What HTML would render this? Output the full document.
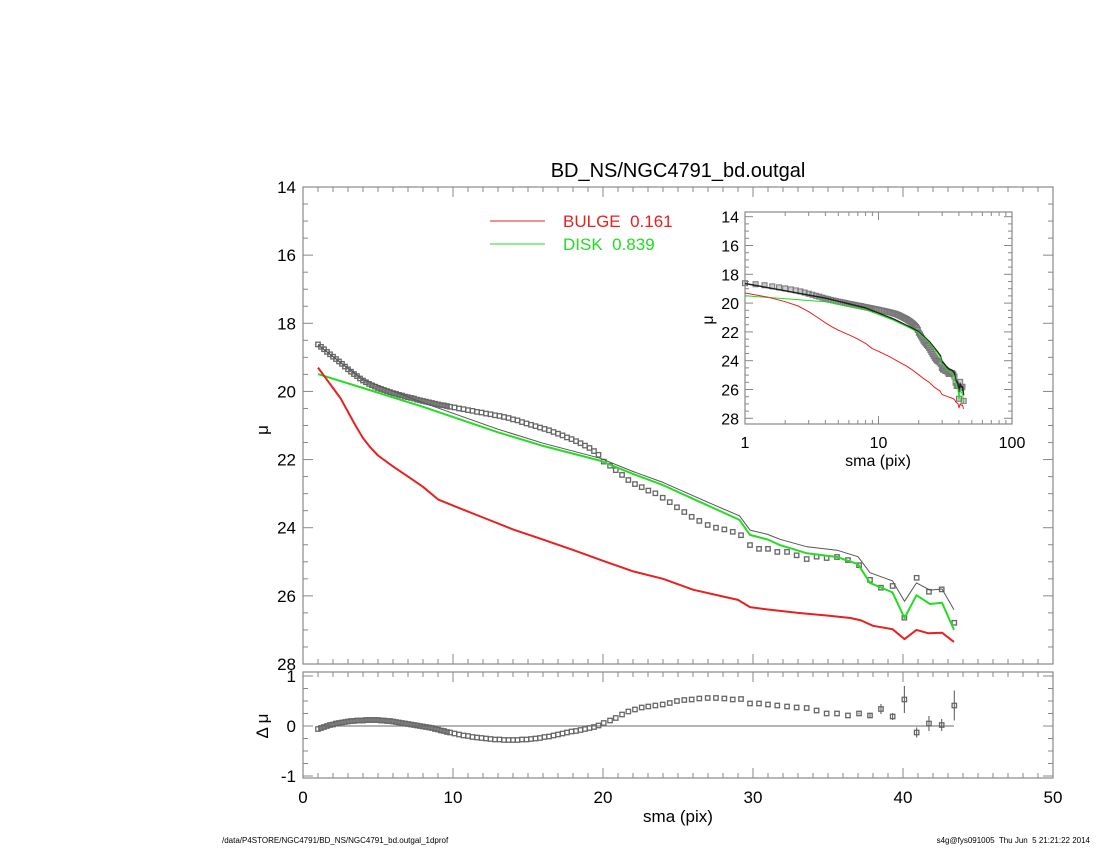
<!DOCTYPE html>
<html><head><meta charset="utf-8"><style>
html,body{margin:0;padding:0;background:#fff;}
svg{display:block;font-family:"Liberation Sans",sans-serif;}
text{white-space:pre;}
</style></head><body>
<svg id="chart" width="1100" height="850" viewBox="0 0 1100 850">
<text x="678" y="177" font-size="20" text-anchor="middle">BD_NS/NGC4791_bd.outgal</text>
<g id="main"></g>
<g id="resid"></g>
<g id="inset"></g>
<text x="678" y="822" font-size="17" text-anchor="middle">sma (pix)</text>
<text transform="translate(268,430) rotate(-90)" font-size="17" text-anchor="middle">μ</text>
<text transform="translate(268,726) rotate(-90)" font-size="17" text-anchor="middle">Δ μ</text>
<line x1="490" y1="221" x2="545" y2="221" stroke="#e82020" stroke-width="1"/>
<text x="563" y="227" font-size="17" fill="#e82020">BULGE  0.161</text>
<line x1="490" y1="244" x2="545" y2="244" stroke="#22dd22" stroke-width="1"/>
<text x="563" y="250" font-size="17" fill="#22dd22">DISK  0.839</text>
<text x="222" y="843" font-size="8">/data/P4STORE/NGC4791/BD_NS/NGC4791_bd.outgal_1dprof</text>
<text x="1090" y="843" font-size="8" text-anchor="end">s4g@fys091005  Thu Jun  5 21:21:22 2014</text>
</svg>
<script>
// data profile (squares)
const smaData = [1.0,1.2,1.4,1.6,1.8,2.0,2.2,2.4,2.6,2.8,3.0,3.2,3.4,3.6,3.8,4.0,4.2,4.4,4.6,4.8,5.0,5.2,5.4,5.6,5.8,6.0,6.2,6.4,6.6,6.8,7.0,7.2,7.4,7.6,7.8,8.0,8.2,8.4,8.6,8.8,9.0,9.2,9.4,9.6,9.8,
10.1,10.4,10.7,11.0,11.3,11.6,11.9,12.2,12.5,12.8,13.1,13.4,13.7,14.0,14.3,14.6,14.9,15.2,15.5,15.8,16.1,16.4,16.7,17.0,17.3,17.6,17.9,18.2,18.5,18.8,19.1,19.4,19.7,
20.05,20.47,20.85,21.27,21.69,22.13,22.58,23.02,23.49,23.98,24.45,24.93,25.42,25.91,26.42,26.98,27.53,28.09,28.65,29.2,29.8,30.4,31.0,31.62,32.27,32.91,33.58,34.24,34.91,35.6,36.33,37.07,37.8,38.53,39.31,40.09,40.91,41.73,42.58,43.42];
const muData = [18.62,18.69,18.76,18.84,18.91,18.98,19.05,19.12,19.19,19.27,19.35,19.42,19.49,19.55,19.62,19.68,19.73,19.78,19.82,19.86,19.9,19.93,19.96,19.99,20.02,20.05,20.07,20.1,20.12,20.15,20.17,20.19,20.21,20.24,20.26,20.28,20.3,20.32,20.34,20.36,20.38,20.4,20.41,20.43,20.45,
20.47,20.5,20.52,20.55,20.57,20.6,20.62,20.65,20.67,20.7,20.72,20.75,20.78,20.82,20.85,20.9,20.94,20.98,21.02,21.06,21.1,21.14,21.19,21.24,21.29,21.35,21.4,21.46,21.52,21.59,21.66,21.75,21.86,
22.06,22.18,22.31,22.45,22.6,22.72,22.81,22.91,22.99,23.12,23.25,23.4,23.54,23.68,23.8,23.92,24.0,24.05,24.12,24.22,24.51,24.62,24.62,24.71,24.71,24.81,24.92,24.85,24.89,24.86,24.95,25.1,25.53,25.76,25.71,26.64,25.47,25.88,25.81,26.79];
const residData = [-0.06,-0.04,-0.02,0.0,0.02,0.03,0.05,0.06,0.07,0.08,0.09,0.1,0.1,0.11,0.11,0.11,0.12,0.12,0.12,0.12,0.12,0.11,0.11,0.1,0.1,0.09,0.08,0.07,0.06,0.05,0.04,0.03,0.02,0.01,0.0,-0.01,-0.02,-0.03,-0.04,-0.06,-0.07,-0.09,-0.1,-0.12,-0.13,
-0.15,-0.17,-0.19,-0.2,-0.22,-0.23,-0.24,-0.25,-0.26,-0.27,-0.27,-0.28,-0.28,-0.28,-0.28,-0.27,-0.27,-0.26,-0.25,-0.24,-0.22,-0.21,-0.19,-0.17,-0.15,-0.13,-0.11,-0.1,-0.08,-0.06,-0.04,-0.02,0.01,
0.06,0.11,0.16,0.23,0.29,0.33,0.37,0.39,0.41,0.43,0.46,0.5,0.52,0.53,0.55,0.56,0.56,0.55,0.53,0.54,0.45,0.45,0.43,0.41,0.39,0.37,0.36,0.31,0.25,0.25,0.21,0.25,0.21,0.34,0.19,0.53,-0.13,0.05,0.02,0.41];
const residErr = [0,0,0,0,0,0,0,0,0,0,0,0,0,0,0,0,0,0,0,0,0,0,0,0,0,0,0,0,0,0,0,0,0,0,0,0,0,0,0,0,0,0,0,0,0,
0,0,0,0,0,0,0,0,0,0,0,0,0,0,0,0,0,0,0,0,0,0,0,0,0,0,0,0,0,0,0,0,0,
0,0,0,0,0,0,0,0,0,0,0,0,0,0,0,0,0,0,0,0,0,0,0,0,0,0,0,0,0,0,0,0.02,0.05,0.1,0.07,0.27,0.1,0.15,0.12,0.3];
// bulge model
const smaBulge = [1,1.5,2,2.5,3,3.5,4,4.5,5,6,7,8,9,10,12,14,16,18,20,22,24,26,28,29,29.8,31,33,35,36.5,37.2,38,39.3,40.1,40.9,41.7,42.6,43.4];
const muBulge = [19.3,19.6,19.9,20.2,20.6,21.0,21.37,21.65,21.88,22.2,22.5,22.8,23.17,23.35,23.7,24.05,24.35,24.65,24.97,25.28,25.5,25.82,26.02,26.12,26.33,26.4,26.5,26.58,26.65,26.72,26.88,26.98,27.27,27.0,27.1,27.08,27.35];
// disk model and total model
const smaDisk = [1,4,8,13,16,19.8,22,24,26,27.5,29.1,29.8,31,31.8,33.6,35.6,37,37.8,39.3,40.1,40.9,41.8,42.6,43.4];
const muDisk = [19.49,19.9,20.45,21.2,21.6,22.03,22.42,22.75,23.15,23.45,23.77,24.21,24.35,24.51,24.75,24.86,25.07,25.62,25.9,26.65,25.98,26.24,26.2,27.0];
const muTotal = [18.64,19.65,20.33,21.11,21.52,21.96,22.35,22.67,23.06,23.35,23.65,24.07,24.2,24.34,24.56,24.66,24.85,25.32,25.56,26.16,25.62,25.83,25.8,26.41];
const mainYTicks = [14,16,18,20,22,24,26,28];
const xTicks = [0,10,20,30,40,50];
const residTicks = [1,0,-1];
const insetXTicks = [1,10,100];

const NS='http://www.w3.org/2000/svg';
function mk(tag, attrs, parent){const e=document.createElementNS(NS,tag);for(const k in attrs)e.setAttribute(k,attrs[k]);parent.appendChild(e);return e;}
const AX='#888';
const L=303,R=1053,T=187,B=664;
const xs=v=>L+(v-0)*(R-L)/50;
const ys=v=>T+(v-14)*(B-T)/14;
const RT=672,RB=778;
const yr=v=>726-v*50;
const IL=745,IR=1012,IT=212,IB=424;
const xi=v=>IL+Math.log10(v)*(IR-IL)/2;
const yi=v=>216.7+(v-14)*14.4;

const gm=document.getElementById('main'), gr=document.getElementById('resid'), gi=document.getElementById('inset');

function frame(g,x0,y0,x1,y1,name){
  const r=mk('rect',{x:x0,y:y0,width:x1-x0,height:y1-y0,fill:'none',stroke:AX,'stroke-width':1.2},g);
  
  
}
frame(gm,L,T,R,B,'main-plot-frame');
frame(gr,L,RT,R,RB,'residual-plot-frame');
frame(gi,IL,IT,IR,IB,'inset-plot-frame');

for(let v=0;v<=50;v++){
  const len=(v%10===0)?10:5, x=xs(v);
  mk('line',{x1:x,y1:B,x2:x,y2:B-len,stroke:AX},gm);
  mk('line',{x1:x,y1:T,x2:x,y2:T+len,stroke:AX},gm);
  mk('line',{x1:x,y1:RB,x2:x,y2:RB-len,stroke:AX},gr);
  mk('line',{x1:x,y1:RT,x2:x,y2:RT+len,stroke:AX},gr);
}
xTicks.forEach(v=>{
  const t=mk('text',{x:xs(v),y:803,'font-size':17,'text-anchor':'middle'},gr);
  t.textContent=v;
  
  
});
for(let v=14;v<=28;v+=0.5){
  const len=(v%2===0)?10:5, y=ys(v);
  mk('line',{x1:L,y1:y,x2:L+len,y2:y,stroke:AX},gm);
  mk('line',{x1:R,y1:y,x2:R-len,y2:y,stroke:AX},gm);
}
mainYTicks.forEach(v=>{
  const t=mk('text',{x:296,y:ys(v)+6,'font-size':17,'text-anchor':'end'},gm);
  t.textContent=v;
  
  
});
for(let v=-1;v<=1.001;v+=0.25){
  const y=yr(v), len=(Math.abs(v%1)<1e-6)?10:5;
  mk('line',{x1:L,y1:y,x2:L+len,y2:y,stroke:AX},gr);
  mk('line',{x1:R,y1:y,x2:R-len,y2:y,stroke:AX},gr);
}
residTicks.forEach(v=>{
  const t=mk('text',{x:296,y:yr(v)+6,'font-size':17,'text-anchor':'end'},gr);
  t.textContent=v;
  
  
});
const zl=mk('line',{x1:xs(1),y1:yr(0),x2:xs(43.4),y2:yr(0),stroke:'#888','stroke-width':1.2},gr);



function poly(g,xsA,ysA,xf,yf,color,w,name){
  const pts=xsA.map((v,i)=>xf(v).toFixed(1)+','+yf(ysA[i]).toFixed(1)).join(' ');
  const p=mk('polyline',{points:pts,fill:'none',stroke:color,'stroke-width':w,'stroke-linejoin':'round'},g);
  
  
}
const sqG=mk('g',{},gm);


smaData.forEach((s,i)=>{
  const x=xs(s),y=ys(muData[i]);
  mk('rect',{x:x-2.2,y:y-2.2,width:4.4,height:4.4,fill:'none',stroke:'#666','stroke-width':1.3},sqG);
});
poly(gm,smaDisk,muTotal,xs,ys,'#555',1,'total-model-line');
poly(gm,smaDisk,muDisk,xs,ys,'#22dd22',2,'disk-line');
poly(gm,smaBulge,muBulge,xs,ys,'#e82020',2,'bulge-line');

const rG=mk('g',{},gr);


smaData.forEach((s,i)=>{
  const x=xs(s),y=yr(residData[i]);
  if(residErr[i]>0) mk('line',{x1:x,y1:yr(residData[i]+residErr[i]),x2:x,y2:yr(residData[i]-residErr[i]),stroke:'#555'},rG);
  mk('rect',{x:x-2.2,y:y-2.2,width:4.4,height:4.4,fill:'none',stroke:'#666','stroke-width':1.3},rG);
});

for(let v=14;v<=28;v+=0.5){
  const len=(v%2===0)?8:4, y=yi(v);
  mk('line',{x1:IL,y1:y,x2:IL+len,y2:y,stroke:AX},gi);
  mk('line',{x1:IR,y1:y,x2:IR-len,y2:y,stroke:AX},gi);
}
mainYTicks.forEach(v=>{
  const t=mk('text',{x:739,y:yi(v)+6,'font-size':16,'text-anchor':'end'},gi);
  t.textContent=v;
  
  
});
[1,10].forEach(d=>{for(let m=1;m<=10;m++){
  const x=xi(d*m), len=(m===1||m===10)?8:4;
  mk('line',{x1:x,y1:IB,x2:x,y2:IB-len,stroke:AX},gi);
  mk('line',{x1:x,y1:IT,x2:x,y2:IT+len,stroke:AX},gi);
}});
insetXTicks.forEach(v=>{
  const t=mk('text',{x:xi(v),y:448,'font-size':16,'text-anchor':'middle'},gi);
  t.textContent=v;
  
  
});
const ixl=mk('text',{x:878,y:466,'font-size':16,'text-anchor':'middle'},gi);
ixl.textContent='sma (pix)';


const iyl=mk('text',{transform:'translate(713,320) rotate(-90)','font-size':16,'text-anchor':'middle'},gi);
iyl.textContent='μ';


const isq=mk('g',{},gi);


smaData.forEach((s,i)=>{
  const x=xi(s),y=yi(muData[i]);
  mk('rect',{x:x-2.5,y:y-2.5,width:5,height:5,fill:'#999','fill-opacity':0.5,stroke:'#777','stroke-width':1},isq);
});
poly(gi,smaDisk,muTotal,xi,yi,'#222',1.5,'inset-total-line');
poly(gi,smaDisk,muDisk,xi,yi,'#22dd22',1,'inset-disk-line');
poly(gi,smaBulge,muBulge,xi,yi,'#e82020',1,'inset-bulge-line');
</script>
</body></html>
